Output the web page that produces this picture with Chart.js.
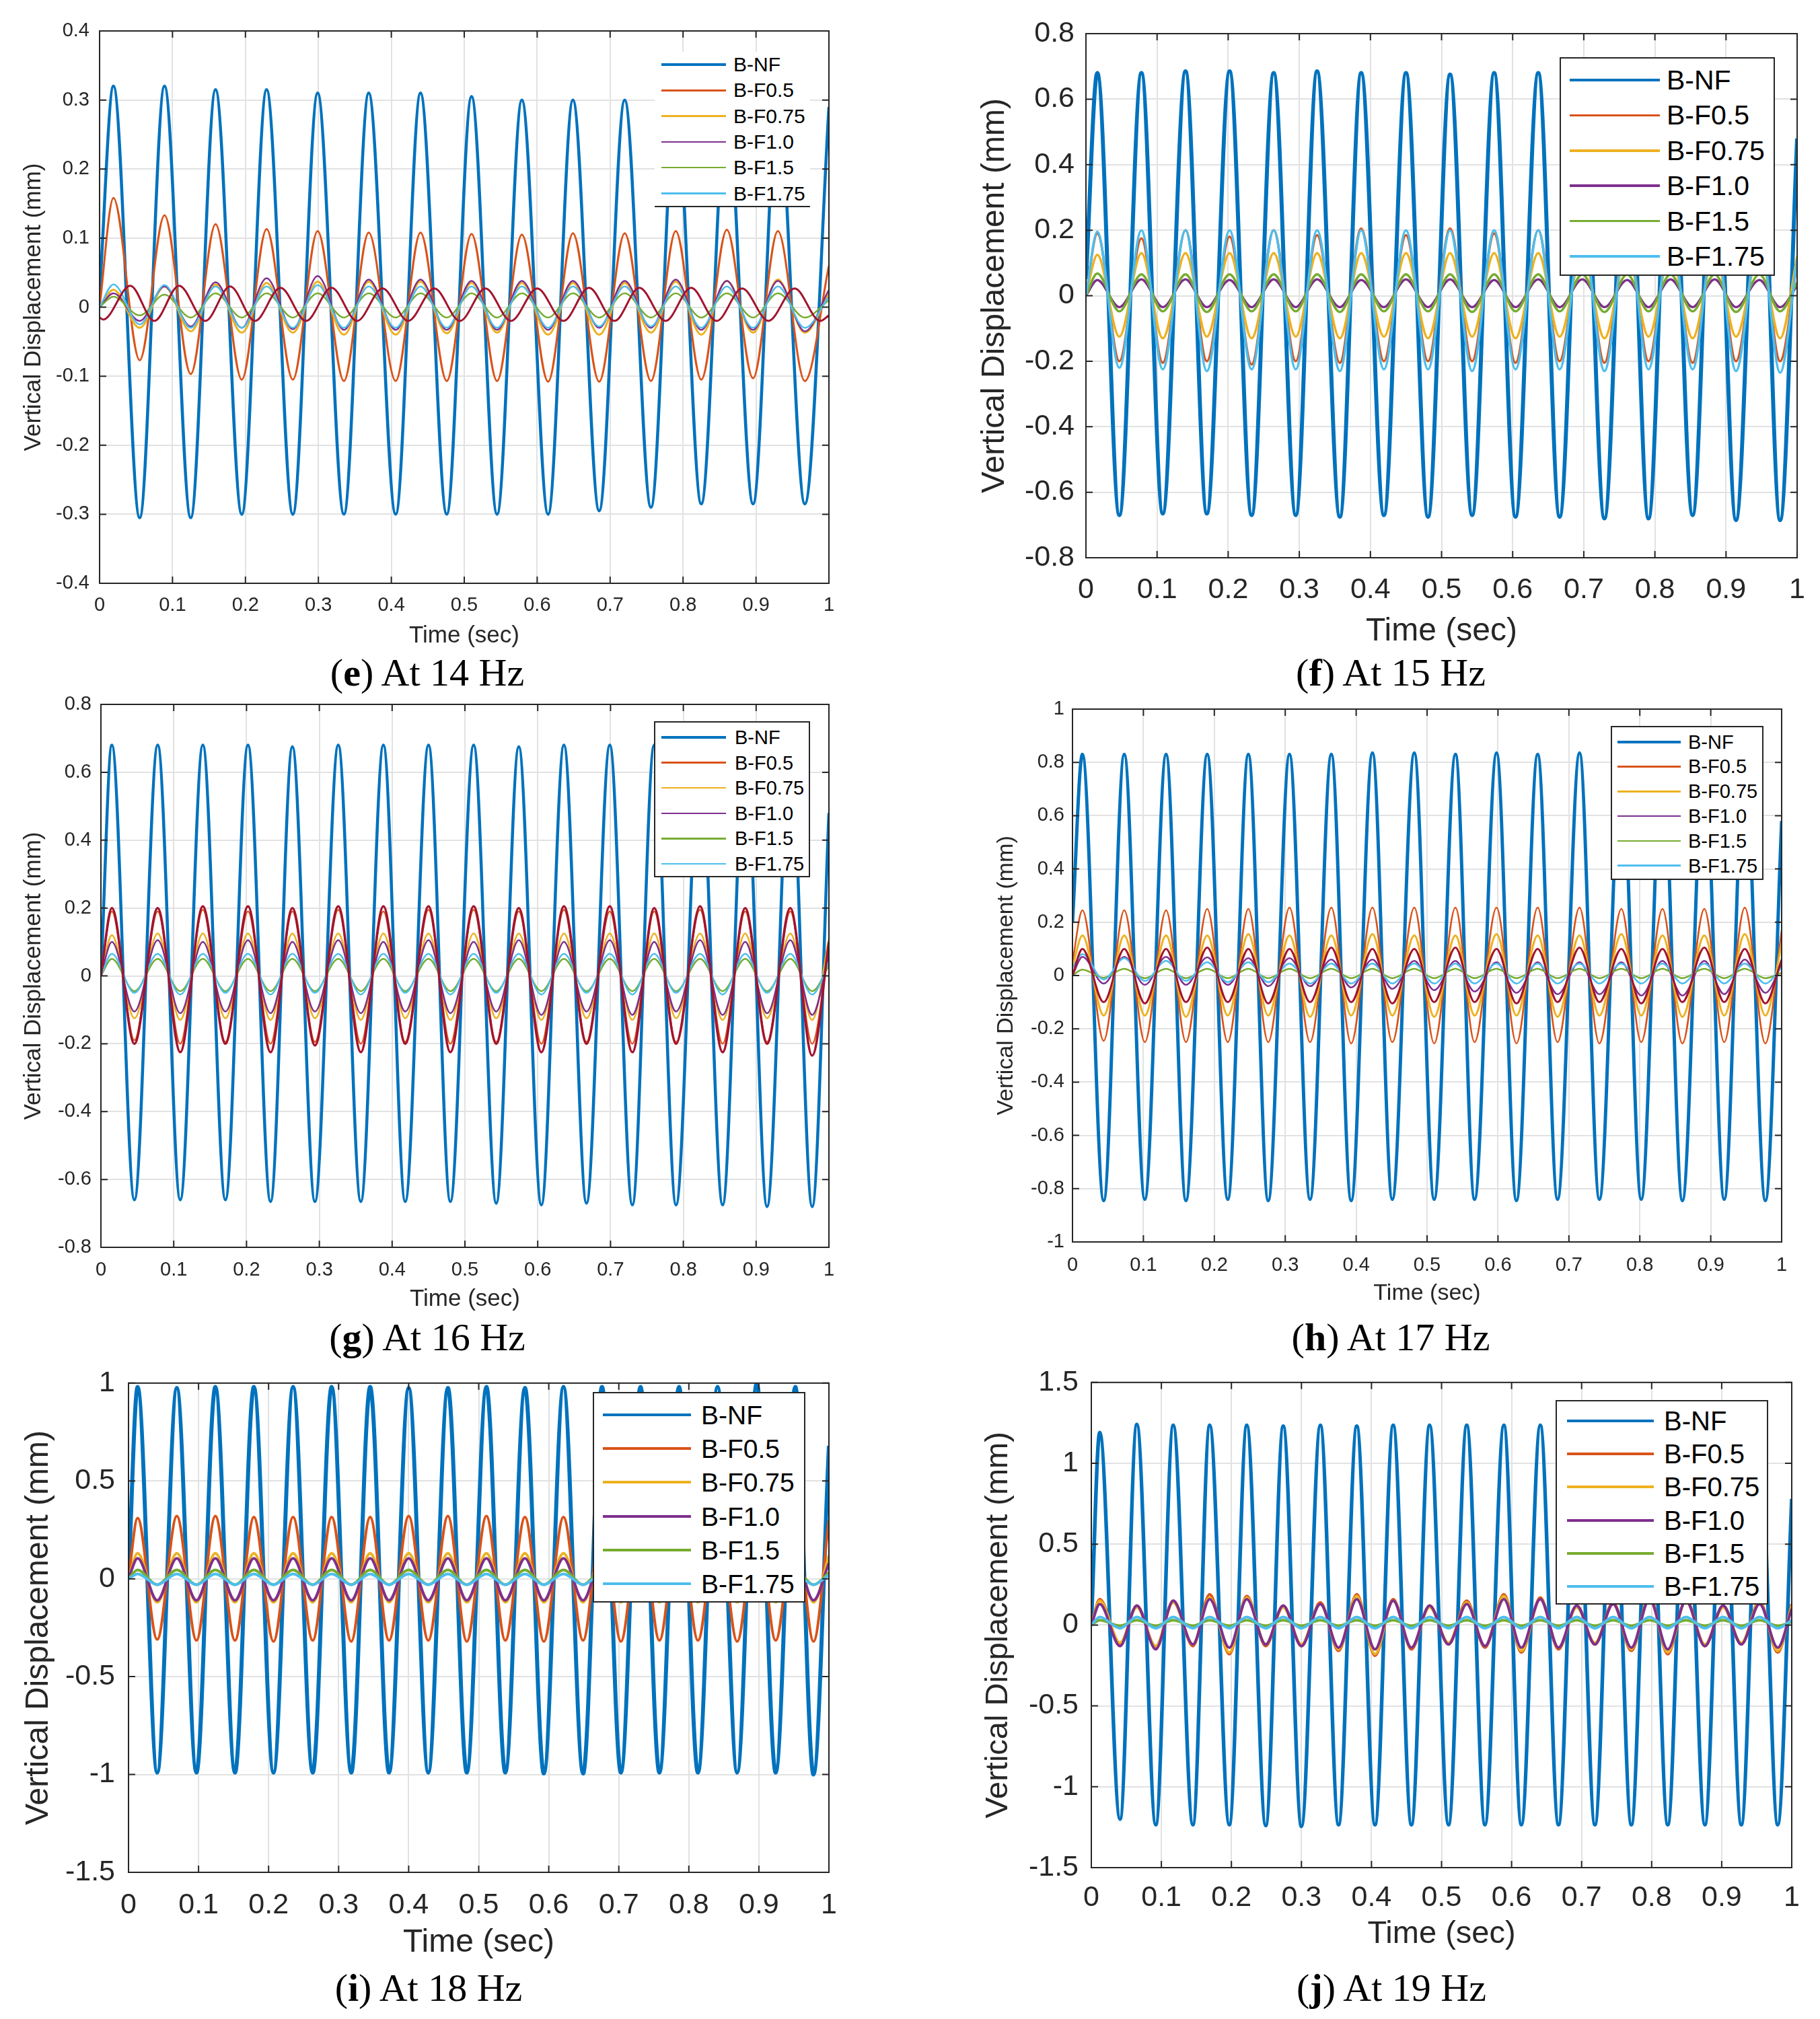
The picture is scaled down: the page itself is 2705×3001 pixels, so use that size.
<!DOCTYPE html>
<html lang="en">
<head>
  <meta charset="UTF-8" />
  <title>Vertical displacement, 14 to 19 Hz</title>
  <script src="https://cdn.jsdelivr.net/npm/chart.js@4"></script>
  <style>
    body { margin: 0; background: #fff; width: 2705px; height: 3001px; position: relative; overflow: hidden;
           font-family: "Liberation Sans", Arial, sans-serif; }
    canvas { position: absolute; }
    .legend { position: absolute; background: #fff; box-sizing: border-box; }
    .lg-line { position: absolute; }
    .lg-text { position: absolute; transform: translateY(-50%); white-space: nowrap; color: #000; line-height: 1; }
    .caption { position: absolute; font-family: "Liberation Serif", "Times New Roman", serif; font-size: 58px;
               line-height: 1; transform: translate(-50%, -50%); white-space: nowrap; color: #000; }
  </style>
</head>
<body>

<script>
  // ---- data: times of the extrema (s) and values there (mm) ----
  const seriesNames = ['B-NF', 'B-F0.5', 'B-F0.75', 'B-F1.0', 'B-F1.5', 'B-F1.75'];
  const seriesColors = ['#0072BD', '#D95319', '#EDB120', '#7E2F8E', '#77AC30', '#4DBEEE'];
  const extraColor = '#A2142F'; // unlabelled 7th trace

  // (e) 14 Hz
  const tE = [0, 0.019, 0.055, 0.089, 0.125, 0.159, 0.195, 0.229, 0.265, 0.299,
              0.335, 0.369, 0.406, 0.440, 0.476, 0.510, 0.545, 0.579, 0.615, 0.649,
              0.685, 0.720, 0.756, 0.790, 0.825, 0.860, 0.896, 0.930, 0.967, 1.0];
  const nfE   = [0.02, 0.32, -0.305, 0.32, -0.305, 0.315, -0.3, 0.315, -0.3, 0.31,
                 -0.3, 0.31, -0.3, 0.31, -0.3, 0.305, -0.3, 0.3, -0.3, 0.3,
                 -0.295, 0.3, -0.29, 0.3, -0.285, 0.3, -0.285, 0.3, -0.285, 0.29];
  const f05E  = [0, 0.158, -0.077, 0.133, -0.097, 0.12, -0.105, 0.113, -0.105, 0.11,
                 -0.107, 0.108, -0.107, 0.108, -0.107, 0.106, -0.107, 0.105, -0.108, 0.107,
                 -0.108, 0.107, -0.107, 0.11, -0.105, 0.112, -0.103, 0.11, -0.107, 0.06];
  const f075E = [0, 0.025, -0.03, 0.03, -0.035, 0.033, -0.037, 0.035, -0.037, 0.037,
                 -0.04, 0.037, -0.04, 0.037, -0.038, 0.035, -0.037, 0.035, -0.04, 0.035,
                 -0.04, 0.035, -0.037, 0.037, -0.04, 0.038, -0.037, 0.04, -0.037, 0.02];
  const f10E  = [0, 0.02, -0.02, 0.03, -0.028, 0.036, -0.03, 0.042, -0.032, 0.045,
                 -0.033, 0.04, -0.033, 0.04, -0.033, 0.038, -0.033, 0.038, -0.033, 0.038,
                 -0.03, 0.038, -0.03, 0.04, -0.033, 0.038, -0.033, 0.038, -0.035, 0.025];
  const f15E  = [0, 0.015, -0.012, 0.018, -0.015, 0.02, -0.015, 0.02, -0.015, 0.02,
                 -0.015, 0.02, -0.015, 0.02, -0.015, 0.02, -0.015, 0.02, -0.015, 0.02,
                 -0.015, 0.02, -0.015, 0.02, -0.015, 0.02, -0.015, 0.02, -0.015, 0.01];
  const f175E = [0, 0.033, -0.025, 0.032, -0.03, 0.03, -0.03, 0.03, -0.03, 0.032,
                 -0.03, 0.03, -0.03, 0.03, -0.03, 0.03, -0.03, 0.03, -0.03, 0.03,
                 -0.028, 0.03, -0.028, 0.03, -0.03, 0.03, -0.03, 0.03, -0.03, 0.015];
  const tE2 = [0, 0.005, 0.042, 0.075, 0.109, 0.145, 0.179, 0.213, 0.248, 0.283,
               0.318, 0.353, 0.388, 0.423, 0.459, 0.494, 0.529, 0.564, 0.600, 0.636,
               0.671, 0.706, 0.740, 0.776, 0.811, 0.846, 0.881, 0.917, 0.953, 0.988, 1.0];
  const xE = [-0.015, -0.018, 0.031, -0.02, 0.031, -0.02, 0.03, -0.02, 0.028, -0.02,
              0.028, -0.02, 0.027, -0.02, 0.027, -0.02, 0.027, -0.02, 0.027, -0.02,
              0.028, -0.02, 0.028, -0.02, 0.028, -0.02, 0.027, -0.02, 0.027, -0.02, -0.012];

  // (f) 15 Hz
  const tF = [0,
              0.016, 0.047, 0.078, 0.108, 0.140, 0.170, 0.202, 0.233,
              0.264, 0.295, 0.325, 0.357, 0.387, 0.419, 0.450, 0.481,
              0.512, 0.543, 0.574, 0.604, 0.636, 0.666, 0.698, 0.729,
              0.761, 0.791, 0.822, 0.853, 0.884, 0.914, 0.947, 0.976,
              1.0];
  const nfF = [0.05,
               0.68, -0.67, 0.68, -0.665, 0.685, -0.665, 0.685, -0.67,
               0.68, -0.67, 0.685, -0.675, 0.68, -0.67, 0.68, -0.675,
               0.675, -0.67, 0.68, -0.675, 0.68, -0.675, 0.68, -0.68,
               0.68, -0.68, 0.68, -0.67, 0.68, -0.685, 0.68, -0.685,
               0.48];
  const f05F = [0,
                0.19, -0.2, 0.175, -0.205, 0.2, -0.2, 0.18, -0.21,
                0.2, -0.2, 0.185, -0.205, 0.205, -0.2, 0.185, -0.2,
                0.205, -0.2, 0.19, -0.205, 0.2, -0.2, 0.185, -0.205,
                0.2, -0.2, 0.19, -0.205, 0.2, -0.2, 0.19, -0.2,
                0.1];
  const f075F = [0,
                 0.125, -0.125, 0.13, -0.13, 0.13, -0.125, 0.13, -0.13,
                 0.13, -0.125, 0.13, -0.13, 0.13, -0.125, 0.13, -0.13,
                 0.13, -0.125, 0.13, -0.13, 0.13, -0.125, 0.13, -0.13,
                 0.13, -0.125, 0.13, -0.13, 0.13, -0.125, 0.13, -0.13,
                 0.12];
  const f10F = [0,
                0.048, -0.035, 0.05, -0.035, 0.05, -0.035, 0.048, -0.035,
                0.05, -0.035, 0.05, -0.035, 0.048, -0.035, 0.05, -0.035,
                0.05, -0.035, 0.048, -0.035, 0.05, -0.035, 0.05, -0.035,
                0.048, -0.035, 0.05, -0.035, 0.05, -0.035, 0.048, -0.035,
                0.03];
  const f15F = [0,
                0.068, -0.048, 0.065, -0.048, 0.065, -0.05, 0.065, -0.048,
                0.065, -0.048, 0.065, -0.05, 0.065, -0.048, 0.065, -0.048,
                0.065, -0.05, 0.065, -0.048, 0.065, -0.048, 0.065, -0.05,
                0.065, -0.048, 0.065, -0.048, 0.065, -0.05, 0.065, -0.048,
                0.04];
  const f175F = [0,
                 0.195, -0.22, 0.2, -0.225, 0.2, -0.23, 0.2, -0.225,
                 0.2, -0.225, 0.2, -0.23, 0.2, -0.225, 0.2, -0.225,
                 0.2, -0.23, 0.2, -0.225, 0.2, -0.225, 0.2, -0.23,
                 0.2, -0.225, 0.2, -0.225, 0.2, -0.23, 0.2, -0.235,
                 0.11];

  // (g) 16 Hz
  const tG = [0,
              0.015, 0.046, 0.078, 0.109, 0.140, 0.171, 0.202, 0.233,
              0.263, 0.294, 0.326, 0.357, 0.388, 0.418, 0.450, 0.480,
              0.512, 0.543, 0.574, 0.605, 0.636, 0.667, 0.699, 0.730,
              0.760, 0.790, 0.823, 0.854, 0.885, 0.915, 0.947, 0.977,
              1.0];
  const nfG = [0,
               0.68, -0.66, 0.68, -0.66, 0.68, -0.66, 0.68, -0.665,
               0.675, -0.665, 0.68, -0.665, 0.68, -0.665, 0.68, -0.665,
               0.68, -0.67, 0.675, -0.675, 0.68, -0.67, 0.68, -0.675,
               0.68, -0.675, 0.68, -0.675, 0.68, -0.68, 0.68, -0.68,
               0.48];
  const f05G = [0,
                0.19, -0.19, 0.19, -0.2, 0.195, -0.195, 0.19, -0.2,
                0.19, -0.195, 0.195, -0.2, 0.19, -0.195, 0.195, -0.2,
                0.195, -0.195, 0.19, -0.2, 0.195, -0.195, 0.19, -0.2,
                0.19, -0.195, 0.195, -0.2, 0.19, -0.195, 0.19, -0.2,
                0.09];
  const f075G = [0,
                 0.12, -0.125, 0.125, -0.13, 0.125, -0.125, 0.125, -0.13,
                 0.125, -0.125, 0.125, -0.13, 0.125, -0.125, 0.125, -0.13,
                 0.125, -0.125, 0.125, -0.13, 0.125, -0.125, 0.125, -0.13,
                 0.125, -0.125, 0.125, -0.13, 0.125, -0.125, 0.125, -0.13,
                 0.11];
  const f10G = [0,
                0.1, -0.105, 0.105, -0.11, 0.1, -0.105, 0.105, -0.11,
                0.1, -0.105, 0.105, -0.11, 0.1, -0.105, 0.105, -0.11,
                0.1, -0.105, 0.105, -0.115, 0.1, -0.105, 0.105, -0.115,
                0.1, -0.105, 0.105, -0.115, 0.1, -0.11, 0.105, -0.115,
                0.06];
  const f15G = [0,
                0.05, -0.045, 0.05, -0.045, 0.05, -0.045, 0.05, -0.045,
                0.05, -0.045, 0.05, -0.045, 0.05, -0.045, 0.05, -0.045,
                0.05, -0.045, 0.05, -0.045, 0.05, -0.045, 0.05, -0.045,
                0.05, -0.045, 0.05, -0.045, 0.05, -0.045, 0.05, -0.045,
                0.03];
  const f175G = [0,
                 0.065, -0.05, 0.065, -0.055, 0.065, -0.05, 0.065, -0.055,
                 0.065, -0.05, 0.065, -0.055, 0.065, -0.05, 0.065, -0.055,
                 0.065, -0.05, 0.065, -0.055, 0.065, -0.05, 0.065, -0.055,
                 0.065, -0.05, 0.065, -0.055, 0.065, -0.05, 0.065, -0.055,
                 0.04];
  const xG = [0,
              0.2, -0.2, 0.2, -0.225, 0.205, -0.2, 0.205, -0.225,
              0.2, -0.205, 0.205, -0.225, 0.205, -0.2, 0.205, -0.225,
              0.205, -0.2, 0.2, -0.225, 0.205, -0.2, 0.205, -0.225,
              0.2, -0.2, 0.205, -0.225, 0.2, -0.2, 0.2, -0.235,
              0.1];

  // (h) 17 Hz
  const tH = [0,
              0.014, 0.044, 0.073, 0.102, 0.132, 0.160, 0.190, 0.219,
              0.248, 0.276, 0.306, 0.335, 0.365, 0.393, 0.423, 0.451,
              0.482, 0.510, 0.540, 0.567, 0.598, 0.626, 0.656, 0.684,
              0.715, 0.743, 0.774, 0.802, 0.832, 0.860, 0.891, 0.919,
              0.948, 0.977,
              1.0];
  const nfH = [0.2,
               0.83, -0.845, 0.83, -0.84, 0.83, -0.845, 0.83, -0.84,
               0.83, -0.845, 0.83, -0.84, 0.83, -0.845, 0.835, -0.84,
               0.835, -0.84, 0.83, -0.84, 0.835, -0.845, 0.83, -0.84,
               0.835, -0.84, 0.83, -0.84, 0.83, -0.845, 0.83, -0.84,
               0.83, -0.845,
               0.58];
  const f05H = [0.05,
                0.245, -0.245, 0.245, -0.25, 0.245, -0.25, 0.25, -0.25,
                0.25, -0.25, 0.255, -0.25, 0.255, -0.255, 0.255, -0.25,
                0.255, -0.255, 0.255, -0.25, 0.255, -0.255, 0.255, -0.25,
                0.255, -0.255, 0.25, -0.25, 0.25, -0.255, 0.25, -0.25,
                0.255, -0.255,
                0.17];
  const f075H = [0.03,
                 0.15, -0.15, 0.15, -0.15, 0.15, -0.155, 0.15, -0.15,
                 0.155, -0.15, 0.15, -0.155, 0.15, -0.15, 0.155, -0.15,
                 0.15, -0.155, 0.15, -0.15, 0.155, -0.15, 0.15, -0.155,
                 0.15, -0.15, 0.155, -0.15, 0.15, -0.155, 0.15, -0.15,
                 0.155, -0.15,
                 0.12];
  const f10H = [0,
                0.07, -0.03, 0.07, -0.035, 0.07, -0.035, 0.068, -0.035,
                0.065, -0.04, 0.065, -0.04, 0.06, -0.045, 0.06, -0.05,
                0.055, -0.055, 0.055, -0.06, 0.05, -0.065, 0.05, -0.07,
                0.05, -0.07, 0.05, -0.075, 0.055, -0.075, 0.055, -0.07,
                0.06, -0.065,
                0.04];
  const f15H = [0,
                0.022, -0.008, 0.025, -0.01, 0.025, -0.01, 0.025, -0.01,
                0.025, -0.01, 0.025, -0.01, 0.025, -0.01, 0.025, -0.01,
                0.025, -0.01, 0.025, -0.01, 0.025, -0.01, 0.025, -0.01,
                0.025, -0.01, 0.025, -0.01, 0.025, -0.01, 0.025, -0.01,
                0.025, -0.01,
                0.01];
  const f175H = [0.03,
                 0.08, -0.015, 0.065, -0.02, 0.055, -0.02, 0.05, -0.025,
                 0.05, -0.025, 0.045, -0.03, 0.045, -0.03, 0.045, -0.03,
                 0.045, -0.03, 0.045, -0.03, 0.045, -0.03, 0.045, -0.03,
                 0.045, -0.03, 0.045, -0.03, 0.045, -0.03, 0.045, -0.03,
                 0.045, -0.03,
                 0.03];
  const xH = [0,
              0.1, -0.1, 0.1, -0.105, 0.1, -0.1, 0.105, -0.1,
              0.1, -0.105, 0.1, -0.1, 0.105, -0.1, 0.1, -0.105,
              0.1, -0.1, 0.105, -0.1, 0.1, -0.105, 0.1, -0.1,
              0.105, -0.1, 0.1, -0.105, 0.1, -0.1, 0.105, -0.1,
              0.1, -0.105,
              0.06];

  // (i) 18 Hz
  const tI = [0,
              0.013, 0.041, 0.069, 0.097, 0.124, 0.152, 0.179, 0.207,
              0.235, 0.263, 0.290, 0.318, 0.345, 0.372, 0.400, 0.428,
              0.456, 0.483, 0.511, 0.538, 0.566, 0.593, 0.621, 0.649,
              0.676, 0.703, 0.731, 0.758, 0.786, 0.813, 0.841, 0.869,
              0.897, 0.924, 0.952, 0.978,
              1.0];
  const nfI = [0,
               0.98, -0.99, 0.975, -0.99, 0.98, -0.99, 0.98, -0.99,
               0.98, -0.99, 0.98, -0.99, 0.98, -0.99, 0.975, -0.99,
               0.975, -0.99, 0.98, -0.99, 0.975, -0.995, 0.98, -0.995,
               0.98, -0.99, 0.98, -0.99, 0.98, -0.99, 0.98, -0.99,
               1.0, -0.99, 0.98, -1.0,
               0.68];
  const f05I = [0,
                0.31, -0.31, 0.32, -0.315, 0.32, -0.315, 0.315, -0.32,
                0.315, -0.315, 0.315, -0.32, 0.315, -0.315, 0.32, -0.315,
                0.32, -0.32, 0.32, -0.315, 0.315, -0.32, 0.315, -0.315,
                0.32, -0.32, 0.32, -0.315, 0.32, -0.315, 0.315, -0.32,
                0.315, -0.315, 0.32, -0.32,
                0.3];
  const f075I = [0,
                 0.13, -0.12, 0.13, -0.12, 0.13, -0.12, 0.13, -0.12,
                 0.13, -0.12, 0.13, -0.12, 0.13, -0.12, 0.13, -0.12,
                 0.13, -0.12, 0.13, -0.12, 0.13, -0.12, 0.13, -0.12,
                 0.13, -0.12, 0.13, -0.12, 0.13, -0.12, 0.13, -0.12,
                 0.13, -0.12, 0.13, -0.12,
                 0.12];
  const f10I = [0,
                0.105, -0.11, 0.105, -0.11, 0.105, -0.11, 0.105, -0.11,
                0.105, -0.11, 0.105, -0.11, 0.105, -0.11, 0.105, -0.11,
                0.105, -0.11, 0.105, -0.11, 0.105, -0.11, 0.105, -0.11,
                0.105, -0.11, 0.105, -0.11, 0.105, -0.11, 0.105, -0.11,
                0.105, -0.11, 0.105, -0.11,
                0.08];
  const f15I = [0,
                0.045, -0.03, 0.045, -0.03, 0.045, -0.03, 0.045, -0.03,
                0.045, -0.03, 0.045, -0.03, 0.045, -0.03, 0.045, -0.03,
                0.045, -0.03, 0.045, -0.03, 0.045, -0.03, 0.045, -0.03,
                0.045, -0.03, 0.045, -0.03, 0.045, -0.03, 0.045, -0.03,
                0.045, -0.03, 0.045, -0.03,
                0.03];
  const f175I = [0,
                 0.025, -0.03, 0.025, -0.03, 0.025, -0.03, 0.025, -0.03,
                 0.025, -0.03, 0.025, -0.03, 0.025, -0.03, 0.025, -0.03,
                 0.025, -0.03, 0.025, -0.03, 0.025, -0.03, 0.025, -0.03,
                 0.025, -0.03, 0.025, -0.03, 0.025, -0.03, 0.025, -0.03,
                 0.025, -0.03, 0.025, -0.03,
                 0.02];

  // (j) 19 Hz
  const tJ = [0,
              0.012, 0.041, 0.065, 0.092, 0.117, 0.145, 0.169, 0.197,
              0.222, 0.249, 0.274, 0.300, 0.327, 0.353, 0.379, 0.405,
              0.431, 0.457, 0.483, 0.510, 0.536, 0.562, 0.589, 0.614,
              0.641, 0.667, 0.693, 0.719, 0.745, 0.771, 0.797, 0.823,
              0.849, 0.876, 0.902, 0.928, 0.954, 0.980,
              1.0];
  const nfJ = [0,
               1.19, -1.2, 1.24, -1.235, 1.235, -1.235, 1.235, -1.235,
               1.235, -1.24, 1.23, -1.245, 1.235, -1.235, 1.23, -1.235,
               1.235, -1.235, 1.235, -1.235, 1.235, -1.235, 1.235, -1.235,
               1.235, -1.235, 1.235, -1.235, 1.23, -1.235, 1.23, -1.235,
               1.23, -1.235, 1.23, -1.235, 1.23, -1.235,
               0.78];
  const f05J = [0,
                0.16, -0.12, 0.12, -0.14, 0.15, -0.13, 0.19, -0.18,
                0.18, -0.13, 0.12, -0.13, 0.14, -0.16, 0.19, -0.19,
                0.16, -0.15, 0.12, -0.12, 0.15, -0.14, 0.19, -0.17,
                0.17, -0.15, 0.12, -0.12, 0.14, -0.16, 0.18, -0.18,
                0.16, -0.13, 0.12, -0.12, 0.15, -0.17,
                0.13];
  const f075J = [0,
                 0.15, -0.11, 0.11, -0.13, 0.14, -0.12, 0.17, -0.17,
                 0.17, -0.12, 0.11, -0.12, 0.13, -0.15, 0.18, -0.18,
                 0.15, -0.14, 0.11, -0.11, 0.14, -0.13, 0.18, -0.16,
                 0.16, -0.14, 0.11, -0.11, 0.13, -0.15, 0.17, -0.17,
                 0.15, -0.12, 0.11, -0.11, 0.14, -0.16,
                 0.12];
  const f10J = [0,
                0.13, -0.13, 0.12, -0.15, 0.15, -0.12, 0.16, -0.14,
                0.16, -0.12, 0.12, -0.13, 0.13, -0.14, 0.16, -0.15,
                0.15, -0.14, 0.12, -0.12, 0.13, -0.13, 0.16, -0.14,
                0.16, -0.14, 0.12, -0.12, 0.13, -0.14, 0.16, -0.15,
                0.15, -0.13, 0.12, -0.12, 0.13, -0.14,
                0.1];
  const f15J = [0,
                0.03, -0.005, 0.03, -0.005, 0.03, -0.005, 0.03, -0.005,
                0.03, -0.005, 0.03, -0.005, 0.03, -0.005, 0.03, -0.005,
                0.03, -0.005, 0.03, -0.005, 0.03, -0.005, 0.03, -0.005,
                0.03, -0.005, 0.03, -0.005, 0.03, -0.005, 0.03, -0.005,
                0.03, -0.005, 0.03, -0.005, 0.03, -0.005,
                0.02];
  const f175J = [0,
                 0.05, -0.02, 0.05, -0.02, 0.05, -0.02, 0.05, -0.02,
                 0.05, -0.02, 0.05, -0.02, 0.05, -0.02, 0.05, -0.02,
                 0.05, -0.02, 0.05, -0.02, 0.05, -0.02, 0.05, -0.02,
                 0.05, -0.02, 0.05, -0.02, 0.05, -0.02, 0.05, -0.02,
                 0.05, -0.02, 0.05, -0.02, 0.05, -0.02,
                 0.03];

  // ---- panel layout (page pixels) ----
  const panels = [
    { letter: 'e', hz: 14, t: tE, values: [nfE, f05E, f075E, f10E, f15E, f175E], extra: { t: tE2, v: xE },
      yMin: -0.4, yMax: 0.4, yStep: 0.1,
      box: [0, 0, 1300, 990], area: [148, 46, 1232, 867], yTitleX: 50, xTitleY: 945,
      tickSize: 29, titleSize: 35, xPad: 16, yPad: 15, widths: [4.5, 3, 3, 2.5, 2.5, 2.5, 3],
      legend: { x1: 973, y1: 77, x2: 1204, y2: 308, row0: 96, gap: 38.3, lx1: 983, lx2: 1079, tx: 1090, size: 30, border: 'bottom' },
      caption: [635, 1000] },
    { letter: 'f', hz: 15, t: tF, values: [nfF, f05F, f075F, f10F, f15F, f175F], extra: null,
      yMin: -0.8, yMax: 0.8, yStep: 0.2,
      box: [1400, 0, 1305, 990], area: [1614, 50, 2674, 829], yTitleX: 1479, xTitleY: 939,
      tickSize: 43, titleSize: 48, xPad: 22, yPad: 17, widths: [6, 3.5, 3.5, 3.5, 3.5, 3.5, 3.5],
      legend: { x1: 2318, y1: 85, x2: 2638, y2: 410, row0: 119, gap: 52.4, lx1: 2333, lx2: 2467, tx: 2477, size: 41, border: 'full' },
      caption: [2067, 1000] },
    { letter: 'g', hz: 16, t: tG, values: [nfG, f05G, f075G, f10G, f15G, f175G], extra: { t: tG, v: xG },
      yMin: -0.8, yMax: 0.8, yStep: 0.2,
      box: [0, 1010, 1300, 980], area: [150, 1047, 1232, 1854], yTitleX: 50, xTitleY: 1931,
      tickSize: 29, titleSize: 35, xPad: 17, yPad: 14, widths: [4.5, 2.5, 2.5, 2.5, 2.5, 2.5, 3.5],
      legend: { x1: 972, y1: 1072, x2: 1204, y2: 1304, row0: 1096, gap: 37.6, lx1: 983, lx2: 1079, tx: 1092, size: 29, border: 'full' },
      caption: [635, 1988] },
    { letter: 'h', hz: 17, t: tH, values: [nfH, f05H, f075H, f10H, f15H, f175H], extra: { t: tH, v: xH },
      yMin: -1, yMax: 1, yStep: 0.2,
      box: [1400, 1010, 1305, 980], area: [1594, 1054, 2648, 1846], yTitleX: 1496, xTitleY: 1923,
      tickSize: 29, titleSize: 34, xPad: 18, yPad: 12, widths: [5, 2.5, 3, 2.5, 2.5, 2.5, 3],
      legend: { x1: 2394, y1: 1079, x2: 2621, y2: 1308, row0: 1102.6, gap: 36.8, lx1: 2404, lx2: 2498, tx: 2509, size: 29, border: 'full' },
      caption: [2067, 1988] },
    { letter: 'i', hz: 18, t: tI, values: [nfI, f05I, f075I, f10I, f15I, f175I], extra: null,
      yMin: -1.5, yMax: 1, yStep: 0.5,
      box: [0, 2010, 1300, 920], area: [191, 2038, 1232, 2783], yTitleX: 58, xTitleY: 2888,
      tickSize: 43, titleSize: 48, xPad: 23, yPad: 20, widths: [6, 4, 4, 4, 4, 4, 4],
      legend: { x1: 881, y1: 2069, x2: 1197, y2: 2382, row0: 2102.6, gap: 50.3, lx1: 896, lx2: 1027, tx: 1042, size: 39, border: 'full' },
      caption: [637, 2955] },
    { letter: 'j', hz: 19, t: tJ, values: [nfJ, f05J, f075J, f10J, f15J, f175J], extra: null,
      yMin: -1.5, yMax: 1.5, yStep: 0.5,
      box: [1400, 2010, 1305, 920], area: [1622, 2050, 2663, 2776], yTitleX: 1484, xTitleY: 2875,
      tickSize: 43, titleSize: 47, xPad: 19, yPad: 19, widths: [5.5, 4, 4, 4, 4, 4, 4],
      legend: { x1: 2312, y1: 2081, x2: 2628, y2: 2385, row0: 2112, gap: 49.2, lx1: 2329, lx2: 2458, tx: 2473, size: 40, border: 'full' },
      caption: [2068, 2955] }
  ];

  const FONT = '"Liberation Sans", Arial, sans-serif';
  const TEXT = '#262626';
  const fmt = v => String(Math.round(v * 100) / 100);

  // MATLAB-style box with inward tick marks on all four sides
  const boxPlugin = {
    id: 'matlabBox',
    afterDatasetsDraw(chart) {
      const { ctx, chartArea: a, scales: { x, y } } = chart;
      const tl = 10;
      ctx.save();
      ctx.strokeStyle = TEXT;
      ctx.lineWidth = 2;
      ctx.beginPath();
      x.ticks.forEach(tk => {
        const px = x.getPixelForValue(tk.value);
        ctx.moveTo(px, a.bottom); ctx.lineTo(px, a.bottom - tl);
        ctx.moveTo(px, a.top); ctx.lineTo(px, a.top + tl);
      });
      y.ticks.forEach(tk => {
        const py = y.getPixelForValue(tk.value);
        ctx.moveTo(a.left, py); ctx.lineTo(a.left + tl, py);
        ctx.moveTo(a.right, py); ctx.lineTo(a.right - tl, py);
      });
      ctx.stroke();
      ctx.strokeRect(a.left, a.top, a.right - a.left, a.bottom - a.top);
      ctx.restore();
    }
  };

  function toPoints(t, v) {
    return v.map((y, i) => ({ x: t[i], y: y }));
  }

  function addLegend(p, datasets) {
    const L = p.legend;
    const box = document.createElement('div');
    box.className = 'legend';
    Object.assign(box.style, { left: L.x1 + 'px', top: L.y1 + 'px', width: (L.x2 - L.x1) + 'px', height: (L.y2 - L.y1) + 'px' });
    if (L.border === 'bottom') box.style.borderBottom = '2px solid #262626';
    else box.style.border = '2px solid #262626';
    document.body.appendChild(box);

    datasets.filter(d => d.label).forEach((d, i) => {
      const cy = L.row0 + i * L.gap;
      const lw = Math.min(d.borderWidth, 4);
      const line = document.createElement('div');
      line.className = 'lg-line';
      Object.assign(line.style, { left: L.lx1 + 'px', width: (L.lx2 - L.lx1) + 'px', top: (cy - lw / 2) + 'px',
                                  height: lw + 'px', background: d.borderColor });
      document.body.appendChild(line);
      const txt = document.createElement('div');
      txt.className = 'lg-text';
      txt.textContent = d.label;
      Object.assign(txt.style, { left: L.tx + 'px', top: cy + 'px', fontSize: L.size + 'px' });
      document.body.appendChild(txt);
    });
  }

  function addCaption(p) {
    const c = document.createElement('div');
    c.className = 'caption';
    c.innerHTML = '(<b>' + p.letter + '</b>) At ' + p.hz + ' Hz';
    c.style.left = p.caption[0] + 'px';
    c.style.top = p.caption[1] + 'px';
    document.body.appendChild(c);
  }

  panels.forEach(p => {
    const [bx, by, bw, bh] = p.box;
    const [al, at, ar, ab] = p.area;
    const canvas = document.createElement('canvas');
    canvas.width = bw;
    canvas.height = bh;
    canvas.style.left = bx + 'px';
    canvas.style.top = by + 'px';
    document.body.appendChild(canvas);

    const datasets = p.values.map((v, i) => ({
      label: seriesNames[i],
      data: toPoints(p.t, v),
      borderColor: seriesColors[i],
      borderWidth: p.widths[i],
      order: 10 - i
    }));
    if (p.extra) {
      datasets.push({ label: '', data: toPoints(p.extra.t, p.extra.v), borderColor: extraColor,
                      borderWidth: p.widths[6], order: 0 });
    }

    const tickFont = { family: FONT, size: p.tickSize, lineHeight: 1.2 };
    const titleFont = { family: FONT, size: p.titleSize, lineHeight: 1 };
    const grid = { color: '#e2e2e2', lineWidth: 2, drawTicks: false };

    new Chart(canvas, {
      type: 'line',
      data: { datasets },
      options: {
        responsive: false,
        animation: false,
        devicePixelRatio: 1,
        events: [],
        layout: { padding: { top: at - by, right: bx + bw - ar, left: 0, bottom: 0 } },
        elements: {
          point: { radius: 0 },
          line: { cubicInterpolationMode: 'monotone', fill: false }
        },
        plugins: { legend: { display: false }, tooltip: { enabled: false } },
        scales: {
          x: {
            type: 'linear', min: 0, max: 1,
            afterFit: s => { s.height = by + bh - ab; },
            ticks: { stepSize: 0.1, callback: fmt, font: tickFont, color: TEXT, padding: p.xPad, maxRotation: 0, autoSkip: false },
            grid: grid,
            border: { display: false },
            title: { display: true, text: 'Time (sec)', font: titleFont, color: TEXT,
                     padding: { top: 0, bottom: by + bh - p.titleSize / 2 - p.xTitleY } }
          },
          y: {
            type: 'linear', min: p.yMin, max: p.yMax,
            afterFit: s => { s.width = al - bx; },
            ticks: { stepSize: p.yStep, callback: fmt, font: tickFont, color: TEXT, padding: p.yPad, autoSkip: false },
            grid: grid,
            border: { display: false },
            title: { display: true, text: 'Vertical Displacement (mm)', font: titleFont, color: TEXT,
                     padding: { top: p.yTitleX - bx - p.titleSize / 2, bottom: 0 } }
          }
        }
      },
      plugins: [boxPlugin]
    });

    addLegend(p, datasets);
    addCaption(p);
  });
</script>

</body>
</html>
